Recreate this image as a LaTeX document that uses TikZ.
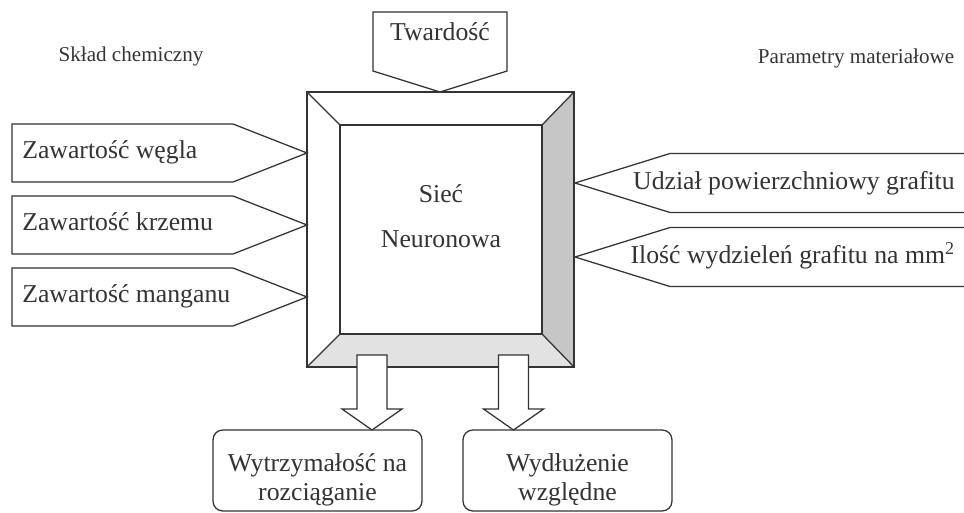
\documentclass[tikz,border=0pt]{standalone}
\usepackage{fontspec}
\setmainfont{Liberation Serif}
\usepackage{tikz}
\usetikzlibrary{positioning}
\definecolor{ink}{HTML}{333333}
\definecolor{shadeR}{HTML}{C6C6C6}
\definecolor{shadeB}{HTML}{E2E2E2}
\tikzstyle{shapeline} = [draw=ink, line width=0.9pt, line join=miter, fill=white]
\tikzstyle{outbox} = [draw=ink, line width=0.9pt, rounded corners=7pt, fill=white]
\tikzstyle{txt} = [text=ink, font=\fontsize{18.3}{20.5}\selectfont, inner sep=0pt]
\tikzstyle{heading} = [text=ink, font=\fontsize{15}{17}\selectfont, inner sep=0pt]

\begin{document}
\begin{tikzpicture}[x=0.025cm, y=-0.025cm]
\useasboundingbox (0,0) rectangle (964,512);

% Headings
\node (chem) [heading, anchor=base] at (131,62) {Skład chemiczny};
\node (param) [heading, anchor=base] at (856,63) {Parametry materiałowe};

% Neural network block
\draw[shapeline] (307,92) rectangle (574,367);
\fill[shadeR] (574,92) -- (542,125) -- (542,334) -- (574,367) -- cycle;
\fill[shadeB] (307,367) -- (340,334) -- (542,334) -- (574,367) -- cycle;
\draw[shapeline] (340,125) rectangle (542,334);
\draw[ink, line width=0.9pt] (307,92) -- (340,125) (574,92) -- (542,125)
  (307,367) -- (340,334) (574,367) -- (542,334);
\draw[ink, line width=0.9pt] (307,92) rectangle (574,367);
\node (net) [txt, align=center, font=\fontsize{18.3}{32}\selectfont] at (441,216.5) {Sieć\\Neuronowa};

% Hardness input
\draw[shapeline] (373,12) -- (507,12) -- (507,71) -- (440,92) -- (373,71) -- cycle;
\node (hard) [txt, anchor=base] at (440,41) {Twardość};

% Chemical composition inputs
\foreach \yc/\intext [count=\i] in {153/Zawartość węgla, 225/Zawartość krzemu, 297/Zawartość manganu} {
  \draw[shapeline] (12,\yc-29) -- (233,\yc-29) -- (307,\yc) -- (233,\yc+29) -- (12,\yc+29) -- cycle;
  \node (in\i) [txt, anchor=base west] at (22,\yc+5) {\intext};
}

% Material parameter inputs
\foreach \yc/\partext [count=\i] in {183/Udział powierzchniowy grafitu, 257/Ilość wydzieleń grafitu na mm\textsuperscript{2}} {
  \draw[shapeline] (975,\yc-29.5) -- (670,\yc-29.5) -- (575,\yc) -- (670,\yc+29.5) -- (975,\yc+29.5);
  \node (par\i) [txt, anchor=base east] at (955,\yc+6) {\partext};
}

% Outputs
\draw[outbox] (213,430) rectangle (422,511);
\draw[outbox] (463,430) rectangle (672,511);
\node (res1) [txt, align=center] at (317.5,480) {Wytrzymałość na\\rozciąganie};
\node (res2) [txt, align=center] at (567.5,480) {Wydłużenie\\względne};

% Block arrows
\foreach \xc in {372,513.5} {
  \draw[shapeline] (\xc-15,355) -- (\xc+15,355) -- (\xc+15,409) -- (\xc+30,409)
    -- (\xc,430) -- (\xc-30,409) -- (\xc-15,409) -- cycle;
}

\end{tikzpicture}
\end{document}
